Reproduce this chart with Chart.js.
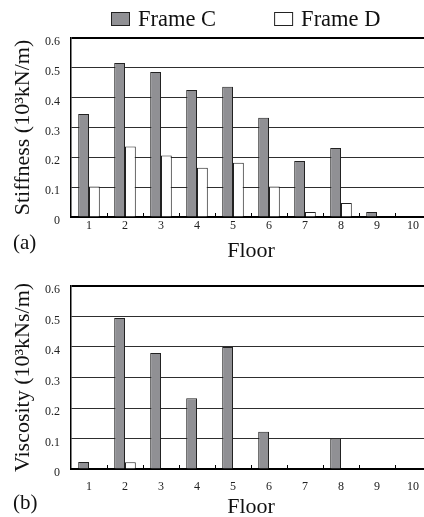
<!DOCTYPE html>
<html>
<head>
<meta charset="utf-8">
<script src="https://cdn.jsdelivr.net/npm/chart.js@4.4.1/dist/chart.umd.min.js"></script>
<style>
  html, body { margin: 0; padding: 0; background: #fff; }
  #wrap { width: 424px; height: 517px; overflow: hidden; position: relative; }
  canvas { display: block; position: absolute; left: 0; }
  #c1 { top: 0; }
  #c2 { top: 260px; }
</style>
</head>
<body>
<div id="wrap">
  <canvas id="c1" width="431" height="260"></canvas>
  <canvas id="c2" width="431" height="257"></canvas>
</div>
<script>
// Floors along the x axis
const floors = ['1', '2', '3', '4', '5', '6', '7', '8', '9', '10'];
const seriesNames = ['Frame C', 'Frame D'];

// Identified stiffness per floor (10^3 kN/m)
const stiffnessC = [0.345, 0.516, 0.486, 0.426, 0.437, 0.333, 0.188, 0.231, 0.017, 0];
const stiffnessD = [0.102, 0.236, 0.206, 0.165, 0.182, 0.102, 0.017, 0.047, 0, 0];

// Identified viscosity per floor (10^3 kNs/m)
const viscosityC = [0.023, 0.495, 0.380, 0.232, 0.400, 0.122, 0, 0.100, 0, 0];
const viscosityD = [0, 0.022, 0, 0, 0, 0, 0, 0, 0, 0];

// Value-axis ticks and their labels
const yTicks = [0, 0.1, 0.2, 0.3, 0.4, 0.5, 0.6];
const yTickLabels = ['0', '0.1', '0.2', '0.3', '0.4', '0.5', '0.6'];

const SERIF = '"Liberation Serif", "Times New Roman", serif';
const FILL_C = '#909094';
const FILL_D = '#ffffff';
const EDGE = '#222222';

// Small upward ticks at the floor boundaries on the x axis
const boundaryTicks = {
  id: 'boundaryTicks',
  afterDatasetsDraw(chart) {
    const xs = chart.scales.x;
    const {ctx, chartArea} = chart;
    const n = chart.data.labels.length;
    const step = (xs.getPixelForValue(1) - xs.getPixelForValue(0));
    const start = xs.getPixelForValue(0) - step / 2;
    ctx.save();
    ctx.strokeStyle = '#000';
    ctx.lineWidth = 1;
    for (let i = 1; i <= n; i++) {
      const x = Math.round(start + i * step) + 0.5;
      ctx.beginPath();
      ctx.moveTo(x, chartArea.bottom);
      ctx.lineTo(x, chartArea.bottom - 4);
      ctx.stroke();
    }
    ctx.restore();
  }
};

// Horizontal legend with square swatches, drawn from the datasets
const boxLegend = {
  id: 'boxLegend',
  afterDraw(chart, args, opts) {
    if (!opts.show) return;
    const {ctx} = chart;
    ctx.save();
    ctx.font = opts.size + 'px ' + SERIF;
    ctx.textBaseline = 'alphabetic';
    ctx.textAlign = 'left';
    let x = opts.x;
    chart.data.datasets.forEach(ds => {
      ctx.fillStyle = ds.backgroundColor;
      ctx.fillRect(x, opts.y, opts.boxW, opts.boxH);
      ctx.strokeStyle = ds.borderColor;
      ctx.lineWidth = 1;
      ctx.strokeRect(x + 0.5, opts.y + 0.5, opts.boxW - 1, opts.boxH - 1);
      const tx = x + opts.boxW + opts.textGap;
      ctx.fillStyle = '#111';
      ctx.fillText(ds.label, tx, opts.y + opts.boxH);
      x = tx + ctx.measureText(ds.label).width + opts.itemGap;
    });
    ctx.restore();
  }
};

// Panel tag such as (a) / (b)
const panelTag = {
  id: 'panelTag',
  afterDraw(chart, args, opts) {
    const {ctx} = chart;
    ctx.save();
    ctx.font = '21px ' + SERIF;
    ctx.fillStyle = '#111';
    ctx.textAlign = 'left';
    ctx.textBaseline = 'alphabetic';
    ctx.fillText(opts.text, opts.x, opts.y);
    ctx.restore();
  }
};

function makeChart(canvasId, cfg) {
  return new Chart(document.getElementById(canvasId), {
    type: 'bar',
    data: {
      labels: floors,
      datasets: [
        { label: seriesNames[0], data: cfg.c, backgroundColor: FILL_C, borderColor: EDGE, borderWidth: 1 },
        { label: seriesNames[1], data: cfg.d, backgroundColor: FILL_D, borderColor: EDGE, borderWidth: 1 }
      ]
    },
    options: {
      responsive: false,
      animation: false,
      devicePixelRatio: 1,
      categoryPercentage: 0.6,
      barPercentage: 1.0,
      layout: { padding: { left: 0, right: 0, top: cfg.top, bottom: 0 } },
      plugins: {
        legend: { display: false },
        tooltip: { enabled: false },
        boxLegend: cfg.legend,
        panelTag: cfg.tag
      },
      scales: {
        x: {
          grid: { display: false },
          border: { display: true, color: '#000', width: 2 },
          ticks: {
            color: '#222',
            padding: cfg.xTickPad,
            font: { family: SERIF, size: 12 },
            maxRotation: 0
          },
          title: {
            display: true,
            text: 'Floor',
            color: '#111',
            font: { family: SERIF, size: 22, lineHeight: cfg.xTitleLH },
            padding: { top: 0, bottom: 0 }
          },
          afterFit(scale) { scale.height = cfg.xHeight; }
        },
        y: {
          min: 0,
          max: 0.6,
          afterBuildTicks(scale) { scale.ticks = yTicks.map(v => ({ value: v })); },
          grid: {
            drawTicks: false,
            color: ctx => (ctx.tick && ctx.tick.value >= 0.6 - 1e-9) ? '#000' : '#2e2e2e',
            lineWidth: ctx => (ctx.tick && ctx.tick.value >= 0.6 - 1e-9) ? 2 : 1
          },
          border: { display: true, color: '#000', width: 1.5 },
          ticks: {
            color: '#222',
            padding: 11,
            labelOffset: 4,
            font: { family: SERIF, size: 12 },
            callback: (v, i) => yTickLabels[i]
          },
          title: {
            display: true,
            text: cfg.yTitle,
            color: '#111',
            font: { family: SERIF, size: 22, lineHeight: 1.2 },
            padding: { top: 10, bottom: 0 }
          },
          afterFit(scale) { scale.width = 71; }
        }
      }
    },
    plugins: [boundaryTicks, boxLegend, panelTag]
  });
}

makeChart('c1', {
  c: stiffnessC,
  d: stiffnessD,
  top: 38,
  xHeight: 43,
  xTickPad: -6,
  xTitleLH: 0.8,
  yTitle: 'Stiffness (10³kN/m)',
  legend: { show: true, x: 111, y: 12, boxW: 19, boxH: 14, textGap: 8, itemGap: 58, size: 22.5 },
  tag: { text: '(a)', x: 13, y: 249 }
});

makeChart('c2', {
  c: viscosityC,
  d: viscosityD,
  top: 26,
  xHeight: 48,
  xTickPad: 3,
  xTitleLH: 0.9,
  yTitle: 'Viscosity (10³kNs/m)',
  legend: { show: false },
  tag: { text: '(b)', x: 13, y: 249 }
});
</script>
</body>
</html>
